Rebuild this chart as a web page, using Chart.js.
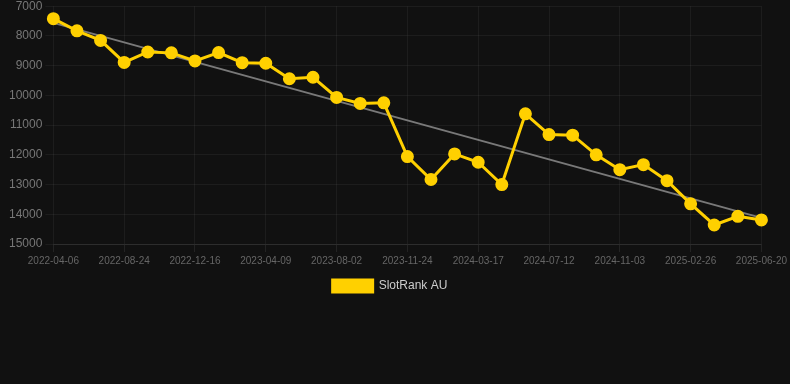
<!DOCTYPE html>
<html>
<head>
<meta charset="utf-8">
<script src="https://cdn.jsdelivr.net/npm/chart.js@4.4.0/dist/chart.umd.min.js"></script>
<style>
    html, body { margin: 0; padding: 0; background: #111111; overflow: hidden; }
    #wrap { width: 790px; height: 388px; position: relative; margin-top: -4px; }
</style>
</head>
<body>
<div id="wrap"><canvas id="chart"></canvas></div>
<script>
// 날짜 (x축)
const dates = [
    '2022-04-06', '2022-05-23', '2022-07-09', '2022-08-24', '2022-10-01', '2022-11-08',
    '2022-12-16', '2023-01-23', '2023-03-02', '2023-04-09', '2023-05-17', '2023-06-24',
    '2023-08-02', '2023-09-09', '2023-10-17', '2023-11-24', '2024-01-01', '2024-02-08',
    '2024-03-17', '2024-04-24', '2024-06-04', '2024-07-12', '2024-08-19', '2024-09-26',
    '2024-11-03', '2024-12-11', '2025-01-18', '2025-02-26', '2025-04-05', '2025-05-13',
    '2025-06-20'
];

// SlotRank AU 순위
const rankAU = [
    7420, 7830, 8150, 8890, 8540, 8570, 8840, 8560, 8900, 8920, 9440, 9390,
    10070, 10270, 10250, 12060, 12830, 11970, 12250, 13000, 10620, 11320, 11340, 12000,
    12500, 12330, 12870, 13650, 14360, 14070, 14190
];

// 추세선 (시작/끝 값만)
const trendStart = 7560;
const trendEnd = 14120;
const trend = dates.map((_, i) => i === 0 ? trendStart : (i === dates.length - 1 ? trendEnd : null));

const ctx = document.getElementById('chart').getContext('2d');
new Chart(ctx, {
    type: 'line',
    data: {
        labels: dates,
        datasets: [{
            label: 'SlotRank AU',
            data: rankAU,
            borderColor: '#FFD000',
            backgroundColor: '#FFD000',
            borderWidth: 3,
            pointRadius: 5,
            pointBackgroundColor: '#FFD000',
            pointBorderColor: '#FFD000',
            tension: 0,
            order: 1
        }, {
            label: 'trend',
            data: trend,
            spanGaps: true,
            borderColor: 'rgba(140, 140, 140, 0.85)',
            borderWidth: 2,
            pointRadius: 0,
            order: 2
        }]
    },
    options: {
        responsive: true,
        maintainAspectRatio: false,
        animation: false,
        layout: { padding: { left: 6, right: 16, top: 0, bottom: 82 } },
        scales: {
            x: {
                grid: { color: 'rgba(255, 255, 255, 0.05)', tickColor: 'rgba(255, 255, 255, 0.08)' },
                border: { color: 'rgba(255, 255, 255, 0.08)' },
                ticks: {
                    color: '#666',
                    font: { size: 10, family: 'Liberation Sans, Arial, sans-serif' },
                    autoSkip: true,
                    maxTicksLimit: 11,
                    maxRotation: 0
                }
            },
            y: {
                reverse: true,
                min: 7000,
                max: 15000,
                grid: { color: 'rgba(255, 255, 255, 0.05)' },
                border: { display: false },
                ticks: {
                    stepSize: 1000,
                    color: '#777',
                    font: { size: 12, family: 'Liberation Sans, Arial, sans-serif' },
                    callback: value => String(value)
                }
            }
        },
        plugins: {
            legend: {
                position: 'bottom',
                labels: {
                    color: '#ccc',
                    boxWidth: 40,
                    boxHeight: 12,
                    font: { size: 12, family: 'Liberation Sans, Arial, sans-serif' },
                    filter: item => item.text !== 'trend'
                }
            },
            tooltip: { enabled: false }
        }
    }
});
</script>
</body>
</html>
